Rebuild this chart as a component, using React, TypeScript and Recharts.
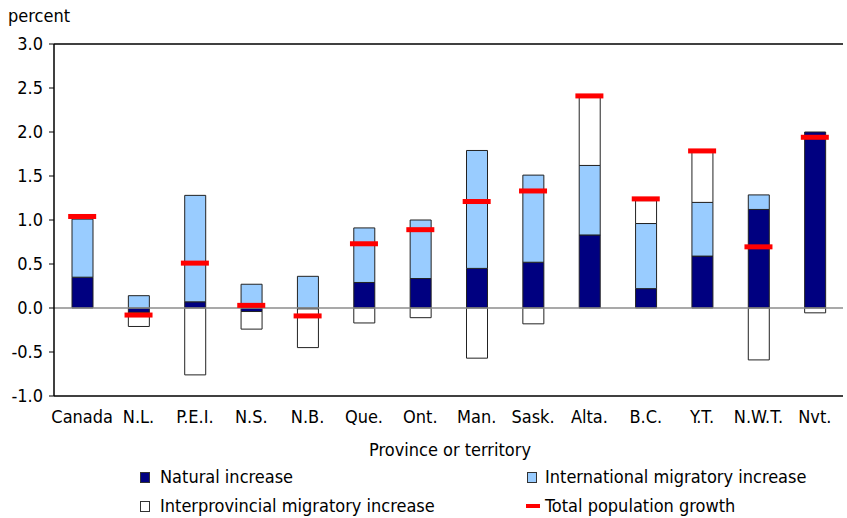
import React from 'react'
import {
  ComposedChart, Bar, Line, XAxis, YAxis, ReferenceLine,
} from 'recharts'

const categories = ['Canada', 'N.L.', 'P.E.I.', 'N.S.', 'N.B.', 'Que.', 'Ont.', 'Man.', 'Sask.', 'Alta.', 'B.C.', 'Y.T.', 'N.W.T.', 'Nvt.']
const natural = [0.35, -0.05, 0.07, -0.04, -0.01, 0.29, 0.335, 0.45, 0.52, 0.83, 0.22, 0.59, 1.12, 2.0]
const international = [0.66, 0.14, 1.21, 0.27, 0.36, 0.62, 0.665, 1.34, 0.99, 0.79, 0.74, 0.61, 0.165, 0]
const interprovincial = [0, -0.16, -0.76, -0.2, -0.44, -0.17, -0.11, -0.57, -0.18, 0.78, 0.26, 0.57, -0.59, -0.055]
const total = [1.04, -0.08, 0.51, 0.03, -0.09, 0.73, 0.89, 1.21, 1.33, 2.41, 1.24, 1.785, 0.695, 1.94]
const yTicks = [-1, -0.5, 0, 0.5, 1, 1.5, 2, 2.5, 3]

const data = categories.map((name, i) => ({
  name,
  natural: natural[i],
  international: international[i],
  interprovincial: interprovincial[i],
  total: total[i],
}))

const FONT = "'DejaVu Sans Condensed', 'Liberation Sans Narrow', sans-serif"
const FS = 18

// red dash for the total growth marker
const renderTotal = (props: Record<string, unknown>) => {
  const cx = props.cx as number
  const cy = props.cy as number
  return <rect key={props.index as number} x={cx - 14} y={cy - 2.5} width={28} height={5} fill="#ff0000" />
}

const legendText: React.CSSProperties = {
  position: 'absolute', fontFamily: FONT, fontSize: FS, color: '#000', lineHeight: '22px', whiteSpace: 'nowrap',
}

function LegendSwatch({ x, y, fill }: { x: number; y: number; fill: string }) {
  return (
    <div style={{
      position: 'absolute', left: x, top: y, width: 8, height: 9,
      background: fill, border: '1px solid #333',
    }} />
  )
}

export default function App() {
  return (
    <div style={{ position: 'absolute', left: 0, top: 0, width: 847, height: 518, background: '#fff' }}>
      <ComposedChart
        width={847}
        height={518}
        data={data}
        stackOffset="sign"
        margin={{ top: 44, right: 4, left: 0, bottom: 90 }}
      >
        <XAxis
          dataKey="name"
          height={32}
          tickLine={false}
          axisLine={{ stroke: '#000', strokeWidth: 1.5 }}
          tick={{ fill: '#000', fontSize: FS, fontFamily: FONT }}
          tickMargin={8}
          interval={0}
        />
        <YAxis
          width={54}
          domain={[-1, 3]}
          ticks={yTicks}
          interval={0}
          tickFormatter={(v: number) => v.toFixed(1)}
          axisLine={{ stroke: '#000', strokeWidth: 1.5 }}
          tickLine={{ stroke: '#000' }}
          tickSize={5}
          tickMargin={6}
          tick={{ fill: '#000', fontSize: FS, fontFamily: FONT }}
        />
        <ReferenceLine y={3} stroke="#000" strokeWidth={1.5} />
        <ReferenceLine y={0} stroke="#8c8c8c" strokeWidth={1.5} />
        <Bar dataKey="natural" stackId="a" barSize={21} fill="#000080" stroke="#222" strokeWidth={1} isAnimationActive={false} />
        <Bar dataKey="international" stackId="a" barSize={21} fill="#99ccff" stroke="#222" strokeWidth={1} isAnimationActive={false} />
        <Bar dataKey="interprovincial" stackId="a" barSize={21} fill="#ffffff" stroke="#222" strokeWidth={1} isAnimationActive={false} />
        <Line dataKey="total" stroke="none" dot={renderTotal} activeDot={false} isAnimationActive={false} />
      </ComposedChart>

      <div style={{ ...legendText, left: 8, top: 5 }}>percent</div>
      <div style={{ ...legendText, left: 0, width: 900, top: 439, textAlign: 'center' }}>Province or territory</div>

      <LegendSwatch x={140} y={472} fill="#000080" />
      <div style={{ ...legendText, left: 160, top: 466 }}>Natural increase</div>
      <LegendSwatch x={527} y={472} fill="#99ccff" />
      <div style={{ ...legendText, left: 545, top: 466 }}>International migratory increase</div>
      <LegendSwatch x={140} y={501} fill="#ffffff" />
      <div style={{ ...legendText, left: 160, top: 495 }}>Interprovincial migratory increase</div>
      <div style={{ position: 'absolute', left: 526, top: 504, width: 14, height: 4, background: '#ff0000' }} />
      <div style={{ ...legendText, left: 545, top: 495 }}>Total population growth</div>
    </div>
  )
}
